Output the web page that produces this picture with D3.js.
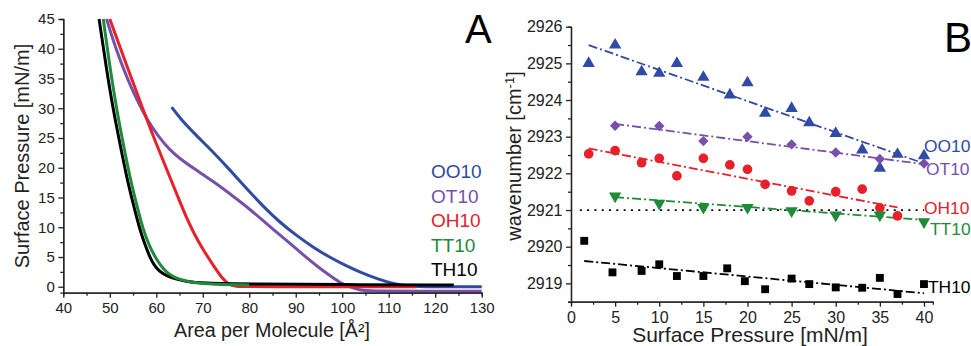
<!DOCTYPE html>
<html>
<head>
<meta charset="utf-8">
<script src="https://cdn.jsdelivr.net/npm/d3@7"></script>
<style>
  body { margin: 0; background: #fff; }
  svg { display: block; font-family: "Liberation Sans", Arial, sans-serif; }
</style>
</head>
<body>
<svg id="chart" width="971" height="346"></svg>
<script>
// ---- panel A: isotherms [area, pressure] ----
const isoOO10 = [[63.3,30.2],[65.1,28.3],[68.5,25.5],[72.3,22.6],[76,19.5],[79.4,16.5],[83,13.5],[86.6,10.8],[90.2,8.6],[93.8,6.6],[97.4,4.9],[100.9,3.5],[104,2.4],[108,1.2],[111,0.5],[114,0.1],[116,0],[130,0]];
const isoOT10 = [[49.3,45],[51.3,40],[53.6,35.3],[55.8,31.4],[58.1,28],[60.4,25.3],[62.9,23],[65.1,21.5],[68.2,19.8],[72.3,17.7],[76.9,15],[80.5,12.8],[84.3,10.2],[88,7.8],[92,5.1],[95,3.2],[97.5,1.8],[99.5,0.7],[101.5,0],[103.8,-0.55],[105.5,-0.75],[130,-0.75]];
const isoOH10 = [[50,45],[53.5,37.5],[57.2,29.7],[60,24],[62.9,18.5],[64.7,15],[66.5,11.6],[68.2,8.8],[70.1,6.2],[72.5,3.3],[74.2,1.4],[75.5,0.4],[77,0.05],[80,0],[116,0]];
const isoTT10 = [[48.6,45],[50,37],[51.5,29.7],[52.9,24],[54.3,18.5],[55.8,13.7],[57.2,9.5],[58.6,6.7],[60.1,4.5],[61.5,3],[62.9,2],[65,1.2],[68,0.65],[72,0.4],[80,0.3]];
const isoTH10 = [[47.7,45],[49.2,37],[50.75,29.7],[52.2,24],[53.6,18.5],[55,14],[56.5,9.5],[57.6,7],[58.6,5],[59.5,3.7],[60.4,2.8],[61.6,2.1],[62.9,1.6],[66.5,0.85],[70,0.6],[80,0.45],[100,0.35],[124,0.3]];

const xTicksA = [40,50,60,70,80,90,100,110,120,130];
const yTicksA = [0,5,10,15,20,25,30,35,40,45];

// ---- panel B: CH2 stretch wavenumber vs surface pressure ----
const ptsOO10 = [[2,2925.0],[5,2925.5],[8,2924.77],[10,2924.73],[12,2925.0],[15,2924.62],[18,2924.14],[20,2924.47],[22,2923.64],[25,2923.77],[27,2923.38],[30,2923.09],[33,2922.64],[35,2922.14],[37,2922.52],[40,2922.48]];
const ptsOT10 = [[5,2923.3],[10,2923.29],[15,2922.88],[20,2923.0],[25,2922.79],[30,2922.57],[35,2922.39],[40,2922.27]];
const ptsOH10 = [[2,2922.53],[5,2922.62],[8,2922.29],[10,2922.41],[12,2921.93],[15,2922.41],[18,2922.23],[20,2922.11],[22,2921.7],[25,2921.52],[27,2921.25],[30,2921.5],[33,2921.57],[35,2921.06],[37,2920.84]];
const ptsTT10 = [[5,2921.38],[10,2921.18],[15,2921.07],[20,2921.07],[25,2920.98],[30,2920.86],[35,2920.86],[40,2920.68]];
const ptsTH10 = [[1.5,2920.16],[4.7,2919.3],[8,2919.34],[10,2919.52],[12,2919.2],[15,2919.2],[17.7,2919.41],[19.7,2919.06],[22,2918.84],[25,2919.13],[27,2918.98],[30,2918.89],[33,2918.88],[35,2919.15],[37,2918.71],[40,2918.98]];

// linear fits drawn as dash-dot lines: [x0, y0, x1, y1]
const fitOO10 = [2, 2925.5, 40, 2922.27];
const fitOT10 = [5, 2923.35, 40, 2922.25];
const fitOH10 = [2, 2922.68, 37, 2921.07];
const fitTT10 = [5, 2921.35, 40, 2920.73];
const fitTH10 = [1.5, 2919.61, 40, 2918.73];
const refLevel = [1, 40, 2921];

const xTicksB = [0,5,10,15,20,25,30,35,40];
const yTicksB = [2919,2920,2921,2922,2923,2924,2925,2926];

const colors = { OO10: '#2f4ba3', OT10: '#7751a9', OH10: '#e8202a', TT10: '#1e8a3a', TH10: '#000000' };

const svg = d3.select('#chart');

function drawAxes(g, x, y, xTicks, yTicks, xMinor, yMinor, fs) {
  const [y0] = y.range();
  const [x0] = x.range();
  g.append('g').attr('transform', `translate(0,${y0})`)
    .call(d3.axisBottom(x).tickValues(xMinor).tickSize(3).tickFormat(''));
  g.append('g').attr('transform', `translate(${x0},0)`)
    .call(d3.axisLeft(y).tickValues(yMinor).tickSize(3).tickFormat(''));
  g.append('g').attr('transform', `translate(0,${y0})`)
    .call(d3.axisBottom(x).tickValues(xTicks).tickSize(5).tickPadding(5).tickSizeOuter(0));
  g.append('g').attr('transform', `translate(${x0},0)`)
    .call(d3.axisLeft(y).tickValues(yTicks).tickSize(5).tickPadding(3.5).tickFormat(d3.format('d')).tickSizeOuter(0));
  g.selectAll('[font-family]').attr('font-family', null);
  g.selectAll('[font-size]').attr('font-size', null);
  g.selectAll('.domain, line').attr('stroke', '#222').attr('stroke-width', 1.3);
  g.selectAll('text').attr('font-size', fs).attr('fill', '#222');
}

// ===== Panel A =====
const xA = d3.scaleLinear().domain([40, 130]).range([63.3, 481.7]);
const yA = d3.scaleLinear().domain([-1, 45]).range([292.7, 19]);
const gA = svg.append('g');

const lineA = d3.line().x(d => xA(d[0])).y(d => yA(d[1])).curve(d3.curveBasis);
[['OO10', isoOO10], ['OT10', isoOT10], ['OH10', isoOH10], ['TH10', isoTH10], ['TT10', isoTT10]]
  .forEach(([k, data]) => {
    gA.append('path').datum(data).attr('d', lineA)
      .attr('fill', 'none').attr('stroke', colors[k]).attr('stroke-width', 3);
  });

drawAxes(gA, xA, yA, xTicksA, yTicksA, d3.range(45, 130, 10), d3.range(2.5, 45, 5), 15);

gA.append('text').attr('transform', 'translate(29,156) rotate(-90)')
  .attr('text-anchor', 'middle').attr('font-size', 20).attr('fill', '#222')
  .text('Surface Pressure [mN/m]');
gA.append('text').attr('x', 272).attr('y', 337)
  .attr('text-anchor', 'middle').attr('font-size', 19.7).attr('fill', '#222')
  .text('Area per Molecule [Å²]');
gA.append('text').attr('x', 465).attr('y', 43).attr('font-size', 40).attr('fill', '#000').text('A');

const legendA = ['OO10', 'OT10', 'OH10', 'TT10', 'TH10'];
legendA.forEach((k, i) => {
  gA.append('text').attr('x', 431).attr('y', 178 + i * 24.6)
    .attr('font-size', 19).attr('fill', colors[k]).text(k);
});

// ===== Panel B =====
const xB = d3.scaleLinear().domain([0, 41]).range([571, 932.8]);
const yB = d3.scaleLinear().domain([2918.5, 2926]).range([301.7, 26.7]);
const gB = svg.append('g');

drawAxes(gB, xB, yB, xTicksB, yTicksB, d3.range(2.5, 41, 5), d3.range(2918.5, 2926, 1), 16);

gB.append('line')
  .attr('x1', xB(refLevel[0])).attr('x2', xB(refLevel[1]))
  .attr('y1', yB(refLevel[2])).attr('y2', yB(refLevel[2]))
  .attr('stroke', '#000').attr('stroke-width', 1.8).attr('stroke-dasharray', '2,5.3');

const fits = [['OO10', fitOO10], ['OT10', fitOT10], ['OH10', fitOH10], ['TT10', fitTT10], ['TH10', fitTH10]];
fits.forEach(([k, f]) => {
  gB.append('line')
    .attr('x1', xB(f[0])).attr('y1', yB(f[1]))
    .attr('x2', xB(f[2])).attr('y2', yB(f[3]))
    .attr('stroke', colors[k]).attr('stroke-width', 1.8).attr('stroke-dasharray', '9,3,2,3');
});

const series = [
  ['OO10', ptsOO10, d3.symbolTriangle, 66, 0],
  ['OT10', ptsOT10, d3.symbolSquare, 54, 45],
  ['OH10', ptsOH10, d3.symbolCircle, 74, 0],
  ['TT10', ptsTT10, d3.symbolTriangle, 66, 180],
  ['TH10', ptsTH10, d3.symbolSquare, 62, 0]
];
series.forEach(([k, data, type, size, rot]) => {
  gB.append('g').selectAll('path').data(data).join('path')
    .attr('transform', d => `translate(${xB(d[0])},${yB(d[1])}) rotate(${rot})`)
    .attr('d', d3.symbol().type(type).size(size))
    .attr('fill', colors[k]);
});

gB.append('text').attr('transform', 'translate(521,156) rotate(-90)')
  .attr('text-anchor', 'middle').attr('font-size', 20).attr('fill', '#222')
  .call(t => {
    t.append('tspan').text('wavenumber [cm');
    t.append('tspan').attr('dy', -7).attr('font-size', 13).text('-1');
    t.append('tspan').attr('dy', 7).text(']');
  });
gB.append('text').attr('x', 750).attr('y', 342)
  .attr('text-anchor', 'middle').attr('font-size', 21).attr('fill', '#222')
  .text('Surface Pressure [mN/m]');
gB.append('text').attr('x', 944).attr('y', 52).attr('font-size', 42).attr('fill', '#000').text('B');

const labelsB = [['OO10', 924, 152], ['OT10', 926, 175], ['OH10', 924, 214], ['TT10', 930, 235], ['TH10', 928, 293]];
labelsB.forEach(([k, x, y]) => {
  gB.append('text').attr('x', x).attr('y', y).attr('font-size', 17.4).attr('fill', colors[k]).text(k);
});
</script>
</body>
</html>
